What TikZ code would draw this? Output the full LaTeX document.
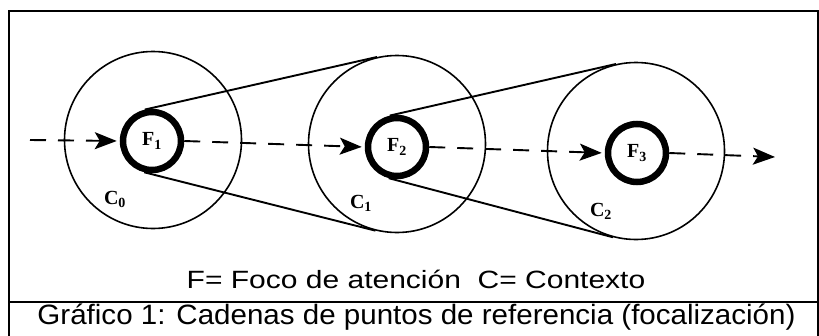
\documentclass[tikz,border=0pt]{standalone}
\usepackage{fontspec}
\usepackage{graphicx}
\setmainfont{Liberation Sans}
\newfontfamily\lblfont{Liberation Serif}
\usetikzlibrary{arrows.meta}
\begin{document}
\begin{tikzpicture}[x=1pt,y=-1pt,
  ctx/.style={circle,draw,line width=1.6pt,minimum size=177pt,inner sep=0pt},
  foc/.style={circle,draw,line width=6.5pt,minimum size=58pt,inner sep=0pt,
    font=\lblfont\bfseries\fontsize{20}{20}\selectfont},
  clbl/.style={inner sep=0pt,font=\lblfont\bfseries\fontsize{20}{20}\selectfont},
  flow/.style={line width=1.9pt,dash pattern=on 16pt off 12pt,
    -{Stealth[length=22pt,width=17pt,inset=5pt]},shorten >=3pt},
  tang/.style={line width=1.9pt},
  frame/.style={line width=1.6pt}]
\useasboundingbox (0,0) rectangle (819,335);
\draw[frame] (9,336) -- (9,11) -- (818,11) -- (818,336);
\draw[frame] (9,302) -- (818,302);
\node[ctx] (C0) at (153,140) {};
\node[ctx] (C1) at (397,144) {};
\node[ctx] (C2) at (636,151) {};
\node[foc] (F1) at (152,141) {F\textsubscript{1}};
\node[foc] (F2) at (397,147) {F\textsubscript{2}};
\node[foc] (F3) at (637,153) {F\textsubscript{3}};
\node[clbl] (L0) at (115,199) {C\textsubscript{0}};
\node[clbl] (L1) at (361,203) {C\textsubscript{1}};
\node[clbl] (L2) at (601,211) {C\textsubscript{2}};
\draw[tang] (F1.103) -- (C1.103);
\draw[tang] (F1.256) -- (C1.256);
\draw[tang] (F2.103) -- (C2.103);
\draw[tang] (F2.255) -- (C2.255);
\coordinate (start) at (30,140);
\coordinate (end) at (775,157);
\draw[flow] (start) -- (F1.west);
\draw[flow] (F1.east) -- (F2.west);
\draw[flow] (F2.east) -- (F3.west);
\draw[flow,shorten >=0pt] (F3.east) -- (end);
\node[anchor=base,inner sep=0pt,font=\fontsize{25}{25}\selectfont] (leg) at (416,288) {\scalebox{1.2}[1]{F= Foco de atención\ \ C= Contexto}};
\node[anchor=base,inner sep=0pt,font=\fontsize{28}{28}\selectfont] (cap) at (416.5,324) {\scalebox{1.055}[1]{Gráfico 1: Cadenas de puntos de referencia (focalización)}};
\end{tikzpicture}
\end{document}
